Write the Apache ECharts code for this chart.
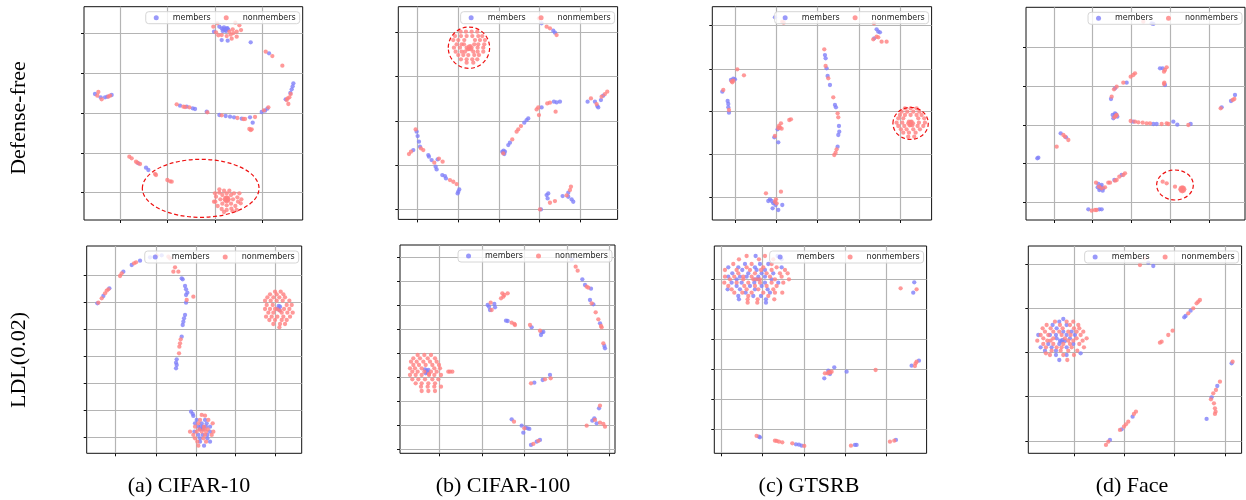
<!DOCTYPE html>
<html><head><meta charset="utf-8">
<script src="https://cdn.jsdelivr.net/npm/echarts@6/dist/echarts.min.js"></script>
<style>html,body{margin:0;padding:0;background:#fff}#c{width:1246px;height:500px}</style>
</head><body><div id="c"></div>
<script>
// ---------- labels ----------
const rowLabels = ['Defense-free', 'LDL(0.02)'];
const captions = ['(a) CIFAR-10', '(b) CIFAR-100', '(c) GTSRB', '(d) Face'];
const seriesNames = ['members', 'nonmembers'];

// expand [[y,[x1,x2..]],..] rows of read-off points into [x,y] pairs
function rows(list) { const out = []; list.forEach(r => r[1].forEach(x => out.push([x, r[0]]))); return out; }

// ---------- axis extents and tick positions (embedding units, no labels) ----------
const a1X = [12, 668], a1Y = [20, 660], a1XT = [120, 262, 405, 547], a1YT = [100, 220, 340, 460, 578];
const b1X = [10, 668], b1Y = [20, 658], b1XT = [67, 190, 312, 433, 556], b1YT = [98, 230, 363, 495, 628];
const c1X = [22, 680], c1Y = [20, 660], c1XT = [92, 215, 338, 462, 587], c1YT = [75, 207, 335, 463, 592];
const d1X = [18, 675], d1Y = [22, 660], d1XT = [102, 218, 335, 452, 568], d1YT = [143, 260, 375, 490, 606];
const a2X = [20, 665], a2Y = [18, 640], a2XT = [107, 228, 348, 467, 587], a2YT = [105, 187, 268, 350, 430, 512, 592];
const b2X = [15, 660], b2Y = [15, 640], b2XT = [133, 262, 388, 517, 642], b2YT = [52, 125, 197, 268, 340, 412, 485, 557, 628];
const c2X = [28, 665], c2Y = [18, 640], c2XT = [50, 173, 298, 422, 545], c2YT = [117, 207, 297, 387, 477, 567];
const d2X = [25, 665], d2Y = [18, 640], d2XT = [162, 313, 463, 615], d2YT = [72, 205, 337, 470, 603];

// ---------- (a) CIFAR-10, Defense-free ----------
const a1Members = [[425,85],[430,88],[435,90],[440,86],[445,89],[432,82],[438,93],[428,93],[442,84],[436,87],[402,95],[418,80],[425,120],[443,122],[512,127],[567,160],[640,250],[638,259],[635,268],[631,279],[617,298],[45,282],[62,292],[75,292],[82,290],[95,285],[300,317],[320,320],[338,325],[345,327],[380,335],[418,345],[437,348],[450,350],[462,352],[485,356],[510,352],[518,368],[545,336],[555,332],[562,326],[175,490],[198,503],[205,510]];
const a1Non = [[400,80],[408,97],[415,106],[425,105],[440,108],[452,104],[460,99],[470,95],[483,90],[478,76],[466,68],[412,70],[455,116],[470,110],[448,95],[458,88],[557,155],[577,168],[607,197],[632,282],[628,292],[620,300],[625,312],[623,295],[55,276],[52,287],[65,298],[85,290],[90,287],[290,313],[310,320],[315,321],[328,322],[382,337],[425,346],[472,354],[490,357],[495,357],[525,351],[552,331],[565,322],[508,387],[512,390],[515,388],[148,470],[155,475],[168,485],[172,488],[180,492],[225,522],[228,525],[262,540],[270,544],[275,545],
 [440,598],[436,594],[444,594],[436,602],[444,602],[440,592],[440,604],[434,598],[446,598],
 [440,580],[453,585],[459,598],[453,611],[440,616],[427,611],[421,598],[427,585],
 [432,572],[448,572],[462,580],[472,592],[474,605],[466,618],[454,626],[440,630],[425,627],[413,618],[406,605],[408,590],[418,578],
 [405,580],[418,568],[478,580],[484,598],[482,610],[470,630],[432,636],[402,605],[458,634]];
const a1Ellipses = [[362,565,175,87]];

// ---------- (b) CIFAR-100, Defense-free ----------
const b1Members = [[440,70],[475,92],[480,98],[578,305],[600,305],[610,322],[607,318],[618,300],[625,287],[440,322],[477,305],[485,307],[495,305],[400,355],[395,360],[388,368],[345,428],[340,435],[322,455],[325,458],[328,462],[330,455],[326,452],[65,395],[68,408],[72,425],[75,440],[55,450],[100,465],[102,470],[110,480],[122,500],[125,508],[128,478],[142,525],[150,528],[153,535],[193,568],[190,575],[188,580],[455,585],[460,580],[458,595],[503,588],[520,578],[520,590],[530,598],[535,605],[438,628]];
const b1Non = [[432,55],[455,80],[465,85],[485,105],[588,295],[605,312],[620,290],[630,282],[637,275],[425,328],[430,322],[432,345],[457,310],[465,308],[482,335],[378,378],[370,388],[365,395],[352,418],[325,460],[62,388],[78,445],[85,450],[48,455],[42,462],[118,488],[132,476],[143,485],[165,540],[175,545],[185,552],[465,608],[480,603],[515,586],[525,570],[528,560],[435,628],
 [215,143],[222,140],[230,143],[222,147],[226,138],[218,148],[228,148]].concat(rows([
 [95,[197,213,230,247]],[108,[180,198,215,232,250,262]],[120,[175,190,208,240,255,270]],
 [133,[185,200,207,238,250,268]],[143,[177,195,248,265]],[155,[182,200,210,235,248,265]],
 [165,[190,205,220,238,252]],[178,[198,215,232,247]],[188,[215,235]]]));
const b1Ellipses = [[222,143,62,62]];

// ---------- (c) GTSRB, Defense-free ----------
const c1Members = [[210,52],[515,88],[520,95],[525,97],[508,115],[78,240],[90,238],[85,236],[52,275],[68,303],[70,312],[70,322],[72,338],[218,388],[208,412],[220,427],[195,598],[210,607],[205,610],[200,603],[212,615],[190,603],[232,615],[220,630],[203,625],[360,165],[362,175],[365,205],[368,228],[375,255],[390,315],[393,322],[402,378],[403,395],[400,405],[398,440]];
const c1Non = [[232,65],[236,68],[507,70],[515,110],[520,112],[530,125],[545,125],[505,118],[97,208],[117,226],[85,242],[82,247],[80,244],[55,270],[72,330],[225,383],[222,378],[228,370],[230,386],[220,384],[253,360],[258,358],[210,408],[183,580],[228,575],[210,605],[213,598],[215,610],[358,148],[362,198],[370,235],[385,292],[398,340],[400,352],[395,448],[392,458],[388,465],
 [610,370],[617,366],[624,370],[617,375],[612,365],[622,376],[620,365],[614,376]].concat(rows([
 [325,[600,617,635]],[335,[590,607,625,643]],[345,[585,600,617,635,650]],[355,[580,595,640,658]],
 [368,[575,592,642,660]],[378,[580,598,638,655]],[388,[588,605,625,645]],[398,[595,612,632]],[410,[610,628]]]));
const c1Ellipses = [[617,370,53,48]];

// ---------- (d) Face, Defense-free ----------
const d1Members = [[395,70],[400,72],[420,205],[428,205],[435,255],[320,248],[285,265],[273,297],[278,345],[285,340],[292,350],[280,355],[285,348],[288,343],[340,365],[400,372],[410,372],[460,365],[472,374],[512,372],[605,322],[633,303],[645,285],[52,475],[55,473],[122,400],[138,412],[235,552],[245,555],[250,565],[238,570],[242,560],[233,562],[248,572],[240,565],[283,540],[305,525],[205,628],[238,628],[245,628]];
const d1Non = [[370,65],[432,215],[440,202],[435,210],[433,248],[432,252],[345,220],[340,225],[332,230],[310,248],[290,260],[282,268],[275,290],[287,348],[283,352],[290,345],[332,363],[345,365],[355,367],[368,368],[380,370],[390,370],[425,372],[440,370],[445,372],[505,375],[602,325],[638,300],[643,297],[110,440],[130,405],[135,410],[145,420],[228,548],[237,560],[245,565],[255,562],[265,548],[270,548],[285,542],[290,540],[298,530],[310,525],[315,520],[215,632],[225,630],[230,630],[428,545],[440,550],[465,560],
 [487,568],[483,564],[491,564],[483,572],[491,572],[487,562],[487,574],[481,568],[493,568]];
const d1Ellipses = [[465,555,55,45]];

// ---------- (a) CIFAR-10, LDL(0.02) ----------
const a2Members = [[52,190],[70,168],[88,145],[130,95],[155,75],[180,62],[210,52],[245,46],[305,115],[308,118],[315,138],[318,148],[322,158],[318,165],[318,188],[315,225],[312,235],[310,245],[308,255],[305,290],[290,358],[288,368],[290,375],[288,385],
 [594,205],[598,210],[600,200],[596,198],
 [333,515],[338,522],[340,528]].concat(rows([
 [540,[350,375]],[550,[345,365,380]],[560,[355,362,370,378,390]],[568,[360,368]],[575,[343,390]],
 [585,[355,368,382]],[595,[360,382]],[605,[360,390]],[617,[372]]]));
const a2Non = [[55,188],[65,175],[75,160],[80,152],[85,148],[120,108],[125,100],[162,70],[168,67],[230,47],[265,50],[270,55],[285,82],[295,95],[280,95],[320,180],[340,170],[302,298],[300,310],[298,320],[297,340],[592,208],[600,212],[365,525],[375,527]].concat(rows([
 [155,[585,602]],[163,[570,590,610]],[172,[562,580,598,615]],[182,[555,572,590,608,628]],[195,[560,578,620,635]],
 [207,[555,570,585,612,628]],[218,[565,580,605,622,638]],[230,[558,575,592,610,630]],[240,[568,585,605,620]],
 [252,[580,600,615]],[262,[598]],
 [540,[360,385]],[550,[355,398]],[560,[345,372]],[568,[358,372,383]],[575,[330,350,365,378,400]],
 [585,[340,375,395]],[595,[345,370]],[605,[352,378]],[617,[355]]]));
const a2Ellipses = [];

// ---------- (b) CIFAR-100, LDL(0.02) ----------
const b2Members = [[530,58],[562,118],[570,135],[588,146],[585,180],[595,193],[615,250],[628,318],[630,325],[278,195],[282,200],[285,210],[298,192],[300,202],[333,242],[338,243],[410,262],[440,277],[445,276],[438,285],[418,428],[443,420],[465,405],[350,538],[380,557],[392,563],[398,565],[403,567],[385,578],[408,615],[425,605],[435,600],[612,505],[598,535],[592,542],[605,550],[90,388],[95,392],[98,398],[92,400],[100,390],[95,396]];
const b2Non = [[542,80],[548,92],[575,140],[580,143],[590,190],[602,217],[610,238],[618,258],[620,262],[625,310],[290,210],[287,188],[318,175],[322,160],[328,165],[338,160],[325,170],[350,248],[358,252],[360,255],[405,255],[435,272],[408,430],[450,418],[467,415],[357,545],[388,565],[415,612],[430,603],[615,497],[600,540],[615,548],[625,552],[630,560],[575,557],[88,395],[102,402]].concat(rows([
 [345,[68,88,108]],[355,[55,75,98,120]],[365,[48,65,85,105,125]],[375,[55,72,92,112,132]],
 [385,[45,60,80,118,135]],[395,[52,68,108,125,160,165,172]],[405,[45,62,80,102,118,138]],
 [418,[52,70,90,112,130]],[430,[62,80,100,120]],[440,[78,98,118,138]],[453,[80,100,120]]]));
const b2Ellipses = [];

// ---------- (c) GTSRB, LDL(0.02) ----------
const c2Members = rows([
 [48,[152,218]],[58,[230]],[72,[120,165,190]],[82,[70,100,150,230]],[90,[112,155,180]],[100,[82,130,170,205]],
 [110,[70,105,125,160,180]],[118,[95,150,160,200]],[128,[80,110,148,180,220]],[138,[95,135,170]],
 [148,[68,105,150,188]],[158,[122,195]],[168,[100,145,168]],[178,[102,183]],[188,[183]]]).concat([
 [628,127],[625,158],[358,415],[388,382],[425,395],[370,392],[375,402],[372,398],[620,377],[642,362],[162,590],[165,592],[273,613],[282,614],[290,617],[450,615],[455,615],[573,600]]);
const c2Non = rows([
 [48,[125,180]],[58,[102,162,205]],[72,[85,140,200]],[82,[125,175,215]],[90,[60,95,135,168,200,240]],
 [100,[100,150,185,225,248]],[110,[60,88,115,140,195,230]],[118,[75,115,145,155,165,210,252]],
 [128,[58,95,130,165,200,235]],[138,[70,118,150,185,215]],[148,[80,125,160,205]],
 [158,[88,112,140,175,210,232]],[168,[130,190]],[178,[128,158,208]],[188,[128,157]]]).concat([
 [587,145],[635,148],[360,400],[372,396],[368,400],[376,398],[380,395],[512,390],[632,370],[635,365],[630,378],[155,588],[210,602],[215,603],[222,605],[232,607],[262,610],[298,618],[438,617],[555,605],[568,602]]);
const c2Ellipses = [];

// ---------- (d) Face, LDL(0.02) ----------
const d2Members = [[385,68],[400,78],[512,212],[497,228],[493,232],[635,370],[592,438],[575,472],[560,537],[338,530],[305,568],[270,600],
 [130,237],[118,245],[98,255],[140,255],[110,265],[130,275],[155,275],[55,285],[90,285],[108,285],[140,285],[165,285],[110,295],[150,295],[120,302],[128,300],[135,303],[125,305],[85,312],[118,312],[160,312],[62,322],[95,322],[140,322],[75,332],[108,332],[182,340],[108,345],[140,345],[118,360]];
const d2Non = [[360,75],[375,55],[540,180],[535,185],[530,190],[520,205],[505,220],[458,272],[445,285],[425,305],[420,308],[638,365],[600,425],[588,450],[580,460],[573,478],[582,490],[585,505],[587,515],[585,522],[348,515],[342,522],[325,545],[318,553],[312,560],[300,570],[265,605],[258,615]].concat(rows([
 [245,[105,140,160]],[255,[80,120,150,175]],[265,[68,92,128,162,178]],[275,[75,100,118,145,170,190]],
 [285,[62,85,125,152,182]],[295,[70,100,135,170,200]],[302,[52,82,92,145,160,188]],[312,[70,100,130,150,178]],
 [322,[78,110,125,155,192]],[332,[95,122,145,172]],[340,[78]],[345,[90,130,162]],[360,[142]]]));
const d2Ellipses = [];

// ---------- assemble ----------
const panels = [
  {box:[84,6.7,218.7,213.3],   x:a1X, y:a1Y, xt:a1XT, yt:a1YT, m:a1Members, n:a1Non, e:a1Ellipses},
  {box:[398.3,6.7,219.3,212.7],x:b1X, y:b1Y, xt:b1XT, yt:b1YT, m:b1Members, n:b1Non, e:b1Ellipses},
  {box:[712.3,6.7,219.3,213.3],x:c1X, y:c1Y, xt:c1XT, yt:c1YT, m:c1Members, n:c1Non, e:c1Ellipses},
  {box:[1026,7.3,219,212.7],   x:d1X, y:d1Y, xt:d1XT, yt:d1YT, m:d1Members, n:d1Non, e:d1Ellipses},
  {box:[86.7,246,215,207.3],   x:a2X, y:a2Y, xt:a2XT, yt:a2YT, m:a2Members, n:a2Non, e:a2Ellipses},
  {box:[400,245,215,208.3],    x:b2X, y:b2Y, xt:b2XT, yt:b2YT, m:b2Members, n:b2Non, e:b2Ellipses},
  {box:[714.3,246,212.3,207.3],x:c2X, y:c2Y, xt:c2XT, yt:c2YT, m:c2Members, n:c2Non, e:c2Ellipses},
  {box:[1028.3,246,213.3,207.3],x:d2X,y:d2Y, xt:d2XT, yt:d2YT, m:d2Members, n:d2Non, e:d2Ellipses}
];

const W = 1246;
const BLUE = '#7f7ff9', RED = '#ff7f7f';
const grid = [], xAxis = [], yAxis = [], series = [], legend = [];
panels.forEach((p, i) => {
  const [l, t, w, h] = p.box;
  grid.push({left:l, top:t, width:w, height:h, show:true, borderColor:'#111', borderWidth:1, backgroundColor:'#fff', outerBoundsMode:'none', containLabel:false});
  const common = {
    gridIndex:i, type:'value', scale:true,
    axisLabel:{show:false},
    axisLine:{show:false},
    splitLine:{show:true, lineStyle:{color:'#b4b4b4', width:1.2}}
  };
  xAxis.push(Object.assign({}, common, {min:p.x[0], max:p.x[1], axisTick:{show:true, inside:false, length:3, customValues:p.xt, lineStyle:{color:'#111'}}}));
  yAxis.push(Object.assign({}, common, {inverse:true, min:p.y[0], max:p.y[1], axisTick:{show:true, inside:false, length:3, customValues:p.yt, lineStyle:{color:'#111'}}}));
  series.push({name:'members', type:'scatter', xAxisIndex:i, yAxisIndex:i, data:p.m, symbolSize:4.3, itemStyle:{color:BLUE}, silent:true, z:2});
  series.push({name:'nonmembers', type:'scatter', xAxisIndex:i, yAxisIndex:i, data:p.n, symbolSize:4.3, itemStyle:{color:RED}, silent:true, z:2});
  if (p.e.length) {
    series.push({type:'custom', xAxisIndex:i, yAxisIndex:i, data:p.e, clip:false, silent:true, z:3,
      renderItem:(params, api) => {
        const c = api.coord([api.value(0), api.value(1)]);
        const s = api.size([api.value(2), api.value(3)], [api.value(0), api.value(1)]);
        return {type:'ellipse', shape:{cx:c[0], cy:c[1], rx:Math.abs(s[0]), ry:Math.abs(s[1])},
          style:{fill:'none', stroke:'#ee1111', lineWidth:1.2, lineDash:[4,2.5]}};
      }});
  }
  legend.push({
    data:seriesNames, right:W - (l + w) + 3, top:t + 5, orient:'horizontal',
    icon:'circle', itemWidth:5, itemHeight:5, itemGap:13,
    padding:[2,4,2,8], backgroundColor:'rgba(255,255,255,0.8)', borderColor:'#d6d6d6', borderWidth:1, borderRadius:3,
    formatter: nm => '{t|' + nm + '}',
    textStyle:{fontFamily:'DejaVu Sans', fontSize:8, color:'#222', rich:{t:{padding:[0,0,0,9], fontFamily:'DejaVu Sans', fontSize:8, color:'#222'}}},
    selectedMode:false, z:5
  });
});

const serif = 'Liberation Serif, DejaVu Serif, serif';
const graphic = [
  {type:'text', x:19, y:118, rotation:Math.PI/2, style:{text:rowLabels[0], font:'22px ' + serif, fill:'#000', align:'center', verticalAlign:'middle'}},
  {type:'text', x:19, y:360, rotation:Math.PI/2, style:{text:rowLabels[1], font:'22px ' + serif, fill:'#000', align:'center', verticalAlign:'middle'}}
];
const capX = [189, 503, 809, 1132];
captions.forEach((c, i) => graphic.push({type:'text', x:capX[i], y:486, style:{text:c, font:'22px ' + serif, fill:'#000', align:'center', verticalAlign:'middle'}}));

const chart = echarts.init(document.getElementById('c'), null, {renderer:'canvas'});
chart.setOption({animation:false, backgroundColor:'#fff', grid, xAxis, yAxis, series, legend, graphic});
</script></body></html>
